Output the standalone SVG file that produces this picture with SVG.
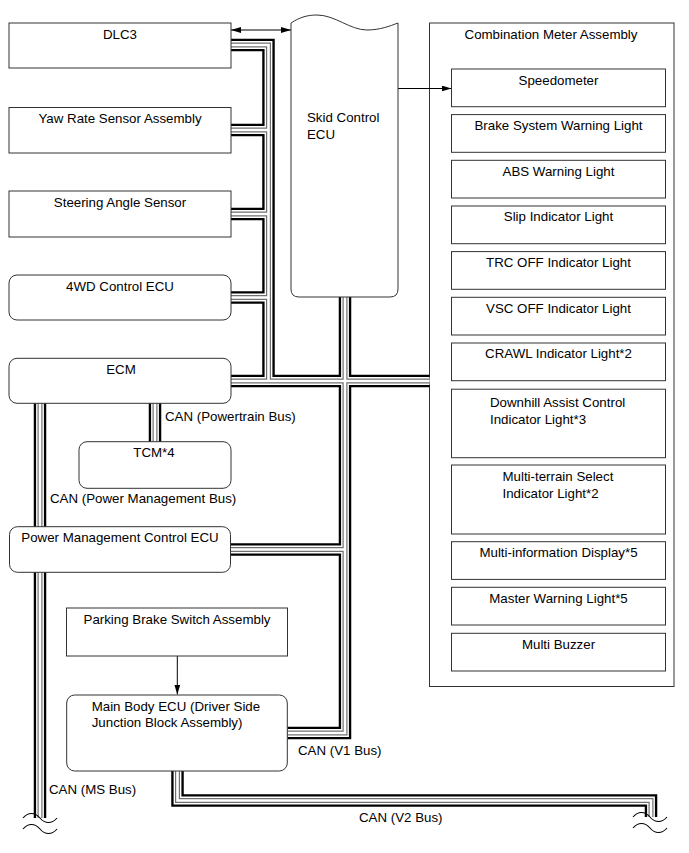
<svg xmlns="http://www.w3.org/2000/svg" xmlns:xlink="http://www.w3.org/1999/xlink" width="689" height="853" viewBox="0 0 689 853">
<style>
  text { font-family: "Liberation Sans", Arial, sans-serif; font-size: 13.3px; fill: #000; }
  .c { text-anchor: middle; }
  .box { fill: #fff; stroke: #333; stroke-width: 1; }
  .bus use { fill: none; stroke-linejoin: miter; stroke-linecap: butt; }
  .l1 { stroke: #000; stroke-width: 12.5; }
  .l2 { stroke: #fff; stroke-width: 7.8; }
  .l3 { stroke: #707070; stroke-width: 5; }
  .l4 { stroke: #fff; stroke-width: 2.6; }
  .arrow { stroke: #000; stroke-width: 1; fill: none; }
  .brk { stroke: #000; stroke-width: 1.1; fill: none; }
</style>
<defs>
  <marker id="ah" markerUnits="userSpaceOnUse" markerWidth="11" markerHeight="7" refX="10" refY="3" orient="auto-start-reverse">
    <path d="M0,0 L10,3 L0,6 Z" fill="#000"/>
  </marker>
  <g id="buspaths">
    <path d="M231,45 H268.5 V381"/>
    <path d="M231,130 H268.5"/>
    <path d="M231,214 H268.5"/>
    <path d="M231,297.5 H268.5"/>
    <path d="M231,381 H429.5"/>
    <path d="M345,297 V733 H287.5"/>
    <path d="M231,549.5 H345"/>
    <path d="M155,403 V442"/>
    <path d="M40,403 V818"/>
    <path d="M177.5,771 V800.5 H651 V817"/>
  </g>
</defs>

<g id="combination-meter">
  <rect class="box" x="429.5" y="23" width="244.5" height="663.5"/>
  <text class="c" x="551" y="38.5">Combination Meter Assembly</text>
</g>

<g id="connectors">
  <g class="bus">
    <use xlink:href="#buspaths" class="l1"/>
    <use xlink:href="#buspaths" class="l2"/>
    <use xlink:href="#buspaths" class="l3"/>
    <use xlink:href="#buspaths" class="l4"/>
  </g>
  <path class="brk" d="M23,818 C28,812 35,812 40,818 C45,824 52,824 57,818"/>
  <path class="brk" d="M23,829 C28,823 35,823 40,829 C45,835 52,835 57,829"/>
  <path class="brk" d="M633,817 C638,811 645,811 650,817 C655,823 662,823 667,817"/>
  <path class="brk" d="M633,828 C638,822 645,822 650,828 C655,834 662,834 667,828"/>
  <line class="arrow" x1="231" y1="30" x2="291" y2="30" marker-start="url(#ah)" marker-end="url(#ah)"/>
  <line class="arrow" x1="398" y1="88.5" x2="451.5" y2="88.5" marker-end="url(#ah)"/>
  <line class="arrow" x1="177.3" y1="656" x2="177.3" y2="694.5" marker-end="url(#ah)"/>
  <text x="165" y="421">CAN (Powertrain Bus)</text>
  <text x="50" y="503">CAN (Power Management Bus)</text>
  <text x="298" y="755">CAN (V1 Bus)</text>
  <text x="49" y="794">CAN (MS Bus)</text>
  <text x="359" y="822">CAN (V2 Bus)</text>
</g>

<g id="dlc3"><rect class="box" x="9" y="23" width="222" height="45"/><text class="c" x="120" y="38.5">DLC3</text></g>
<g id="yaw-rate-sensor"><rect class="box" x="9" y="107.5" width="222" height="45.5"/><text class="c" x="120" y="123">Yaw Rate Sensor Assembly</text></g>
<g id="steering-angle-sensor"><rect class="box" x="9" y="191" width="222" height="46"/><text class="c" x="120" y="206.5">Steering Angle Sensor</text></g>
<g id="4wd-control-ecu"><rect class="box" x="9" y="275" width="222" height="45" rx="8"/><text class="c" x="120" y="290.5">4WD Control ECU</text></g>
<g id="ecm"><rect class="box" x="9" y="358.3" width="222" height="45" rx="8"/><text class="c" x="121" y="374">ECM</text></g>
<g id="tcm"><rect class="box" x="79" y="441.7" width="152" height="46.6" rx="8"/><text class="c" x="154" y="457">TCM*4</text></g>
<g id="power-management-ecu"><rect class="box" x="9.5" y="526.7" width="221" height="45.6" rx="8"/><text class="c" x="120" y="542">Power Management Control ECU</text></g>
<g id="parking-brake-switch"><rect class="box" x="66.5" y="608" width="221" height="48"/><text class="c" x="177" y="624">Parking Brake Switch Assembly</text></g>
<g id="main-body-ecu"><rect class="box" x="66.7" y="695" width="220.6" height="76" rx="8"/><text x="91.7" y="710.7">Main Body ECU (Driver Side</text><text x="91.7" y="726.5">Junction Block Assembly)</text></g>

<g id="skid-control-ecu">
  <path class="box" d="M291,23 C300,17 308,15 317,15 C335,15 350,30 367,30 C380,30 390,26 398,23 V289 Q398,297 390,297 H299 Q291,297 291,289 Z"/>
  <text x="307" y="121.5">Skid Control</text>
  <text x="307" y="138.5">ECU</text>
</g>

<g id="speedometer"><rect class="box" x="451.5" y="69" width="214" height="37.7"/><text class="c" x="558.5" y="84.5">Speedometer</text></g>
<g id="brake-warning"><rect class="box" x="451.5" y="114.6" width="214" height="37.7"/><text class="c" x="558.5" y="130">Brake System Warning Light</text></g>
<g id="abs-warning"><rect class="box" x="451.5" y="160.3" width="214" height="37.7"/><text class="c" x="558.5" y="175.7">ABS Warning Light</text></g>
<g id="slip-indicator"><rect class="box" x="451.5" y="206" width="214" height="37.7"/><text class="c" x="558.5" y="221.4">Slip Indicator Light</text></g>
<g id="trc-off"><rect class="box" x="451.5" y="251.6" width="214" height="37.7"/><text class="c" x="558.5" y="267">TRC OFF Indicator Light</text></g>
<g id="vsc-off"><rect class="box" x="451.5" y="297.3" width="214" height="37.7"/><text class="c" x="558.5" y="312.7">VSC OFF Indicator Light</text></g>
<g id="crawl"><rect class="box" x="451.5" y="343" width="214" height="37.7"/><text class="c" x="558.5" y="358.4">CRAWL Indicator Light*2</text></g>
<g id="downhill-assist"><rect class="box" x="451.5" y="389.2" width="214" height="68.5"/><text x="490" y="407">Downhill Assist Control</text><text x="490" y="424">Indicator Light*3</text></g>
<g id="multi-terrain"><rect class="box" x="451.5" y="465" width="214" height="69"/><text x="502.5" y="480.5">Multi-terrain Select</text><text x="502.5" y="497.5">Indicator Light*2</text></g>
<g id="multi-info-display"><rect class="box" x="451.5" y="541.7" width="214" height="37.7"/><text class="c" x="558.5" y="556.8">Multi-information Display*5</text></g>
<g id="master-warning"><rect class="box" x="451.5" y="587.3" width="214" height="37.7"/><text class="c" x="558.5" y="602.6">Master Warning Light*5</text></g>
<g id="multi-buzzer"><rect class="box" x="451.5" y="633.3" width="214" height="37.7"/><text class="c" x="558.5" y="648.5">Multi Buzzer</text></g>
</svg>
